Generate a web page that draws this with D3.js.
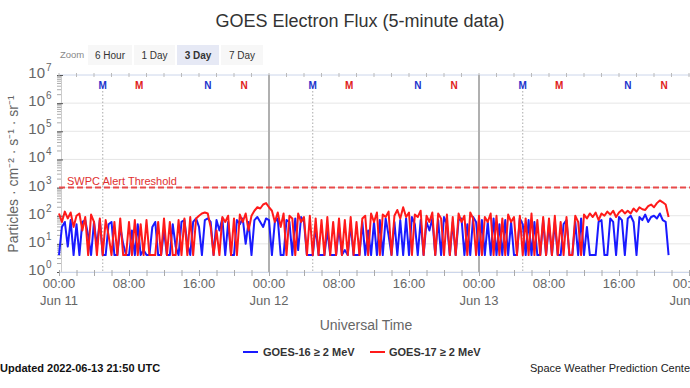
<!DOCTYPE html>
<html><head><meta charset="utf-8">
<script src="https://cdn.jsdelivr.net/npm/d3@7"></script>
<style>
html,body{margin:0;padding:0;background:#fff;overflow:hidden}
svg{display:block;font-family:"Liberation Sans",Arial,Helvetica,sans-serif}
</style></head><body>
<svg id="c" width="690" height="388"></svg>
<script>
// ---- data ----
const startTime = Date.UTC(2022, 5, 11, 0, 0);
const stepMinutes = 20;
const goes16 = [
 4,40,60, 8,70,4, 50,4,60, 70,20,4, 60,8,70, 4,4,50, 60,4,4, 40,10,4, 4,30,4, 50,4,6,
 4,4,40, 60,4,4, 30,4,4, 50,8,4, 60,70,10, 4,60,80, 40,4,70, 80,60,4, 70,30,80, 4,60,4,
 4,70,50, 80,10,60, 4,70,90, 60,40,80, 70,4,60, 80,4,4, 70,60,4, 80,6,90, 60,4,4, 4,40,4,
 4,4,30, 4,4,4, 40,4,6, 4,50,4, 4,4,60, 4,30,4, 60,4,70, 4,80,20, 4,60,4, 70,4,80,
 4,90,50, 4,70,4, 60,30,80, 4,70,4, 90,50,4, 60,4,70, 80,4,50, 4,90,60, 4,70,4, 60,4,80,
 4,50,4, 70,4,60, 4,4,80, 50,4,70, 4,60,4, 4,70,4, 50,4,60, 4,4,50, 70,4,4, 60,4,80,
 4,40,4, 4,4,60, 70,4,4, 80,60,4, 90,70,4, 80,100,60, 4,90,70, 110,60,90, 100,80,120, 70,60,4
];
const goes17 = [
 120,60,140, 80,130,40, 100,120,30, 90,4,110, 60,4,80, 4,70,20, 4,60,4, 80,4,4, 60,4,70, 4,50,4,
 70,4,4, 4,60,4, 80,4,60, 4,4,70, 4,80,4, 90,4,80, 100,120,130, 120,40,4, 30,4,90, 60,100,4,
 80,4,110, 60,120,30, 100,150,200, 180,250,280, 200,150,60, 130,40,120, 4,100,80, 4,120,60, 90,4,100, 4,80,4,
 70,4,90, 4,60,4, 80,4,70, 4,90,4, 60,4,80, 100,4,120, 60,130,4, 110,90,140, 4,100,160, 80,200,90,
 130,4,110, 90,150,4, 100,60,130, 4,120,80, 4,110,4, 90,4,120, 60,100,4, 130,80,4, 100,4,90, 60,120,4,
 100,4,80, 4,110,60, 90,4,100, 4,80,4, 120,4,70, 4,90,4, 80,4,100, 4,60,4, 90,4,4, 100,60,4,
 110,80,120, 90,130,70, 120,100,140, 110,150,90, 130,160,120, 150,120,180, 140,200,170, 160,220,250, 200,280,350, 300,250,90
];
const yTicks = [1, 10, 100, 1e3, 1e4, 1e5, 1e6, 1e7];
const thresholdValue = 1000;
const markerTimes = [
 ["2022-06-11T05:00Z","M","blue"],["2022-06-11T09:09Z","M","red"],["2022-06-11T17:00Z","N","blue"],["2022-06-11T21:09Z","N","red"],
 ["2022-06-12T05:00Z","M","blue"],["2022-06-12T09:09Z","M","red"],["2022-06-12T17:00Z","N","blue"],["2022-06-12T21:09Z","N","red"],
 ["2022-06-13T05:00Z","M","blue"],["2022-06-13T09:09Z","M","red"],["2022-06-13T17:00Z","N","blue"],["2022-06-13T21:09Z","N","red"]
];
const dayLines = ["2022-06-12T00:00Z","2022-06-13T00:00Z"];
const zoomButtons = ["6 Hour","1 Day","3 Day","7 Day"];
const selectedZoom = "3 Day";
const seriesNames = ["GOES-16 \u2265 2 MeV","GOES-17 \u2265 2 MeV"];
const seriesColors = ["#1a1aff","#ff1a1a"];

// ---- layout ----
const svg = d3.select("#c");
const L = 59, R = 689, T = 75, B = 272;
const x = d3.scaleUtc().domain([new Date(Date.UTC(2022,5,11)), new Date(Date.UTC(2022,5,14))]).range([L, R]);
const y = d3.scaleLog().domain([1, 1e7]).range([B, T]);
const grey = "#666";

// title
svg.append("text").attr("x", 360).attr("y", 27).attr("text-anchor","middle")
  .attr("font-size", 18).attr("fill","#333").text("GOES Electron Flux (5-minute data)");

// zoom buttons
svg.append("text").attr("x", 60).attr("y", 58).attr("font-size", 9.5).attr("fill","#888").text("Zoom");
const bx = [[88,132],[134,175],[177,219],[221,263]];
zoomButtons.forEach((b,i)=>{
  const sel = b === selectedZoom;
  svg.append("rect").attr("x", bx[i][0]).attr("y", 45).attr("width", bx[i][1]-bx[i][0]).attr("height", 20)
    .attr("fill", sel ? "#e6e9f5" : "#f7f7f7");
  svg.append("text").attr("x", (bx[i][0]+bx[i][1])/2).attr("y", 58.5).attr("text-anchor","middle")
    .attr("font-size", 10).attr("font-weight", sel ? "bold":"normal").attr("fill","#333").text(b);
});

// gridlines
svg.append("g").selectAll("line").data(yTicks).join("line")
  .attr("x1", L).attr("x2", 690).attr("y1", d=>y(d)).attr("y2", d=>y(d))
  .attr("stroke", d=> d===1e7 ? "#ccd6eb" : "#e6e6e6").attr("stroke-width", 1);

// y minor ticks
const minor = [];
for (let k=0;k<7;k++) for (let m=2;m<10;m++) minor.push(m*Math.pow(10,k));
svg.append("g").selectAll("line").data(minor).join("line")
  .attr("x1", L-2).attr("x2", L+3).attr("y1", d=>y(d)).attr("y2", d=>y(d))
  .attr("stroke","#999").attr("stroke-width",0.8);

// y axis
const yAxis = svg.append("g").attr("transform",`translate(${L+2},0)`)
  .call(d3.axisLeft(y).tickValues(yTicks).tickFormat("").tickSize(5).tickSizeOuter(0));
yAxis.select(".domain").attr("stroke","#ccc");
yAxis.selectAll(".tick line").attr("stroke","#555").attr("x2",2).attr("x1",-4);
const yl = svg.append("g");
yTicks.forEach(v=>{
  const e = Math.round(Math.log10(v));
  const t = yl.append("text").attr("x", 45).attr("y", y(v)+3).attr("text-anchor","end")
    .attr("font-size", 15).attr("fill", grey);
  t.append("tspan").text("10");
  yl.append("text").attr("x", 46).attr("y", y(v)-4).attr("font-size", 10).attr("fill", grey).text(e);
});

// y axis title
svg.append("text").attr("transform","translate(18,174) rotate(-90)").attr("text-anchor","middle")
  .attr("font-size", 14).attr("fill", grey).text("Particles \u00b7 cm\u207b\u00b2 \u00b7 s\u207b\u00b9 \u00b7 sr\u207b\u00b9");

// x axis
const xAxis = svg.append("g").attr("transform",`translate(0,${B})`)
  .call(d3.axisBottom(x).ticks(d3.utcHour.every(2)).tickFormat("").tickSize(4).tickSizeOuter(0));
xAxis.select(".domain").attr("stroke","#ccd6eb");
xAxis.selectAll(".tick line").attr("stroke","#aaa").attr("y1",-2);
// top ticks
svg.append("g").selectAll("line").data(x.ticks(d3.utcHour.every(2))).join("line")
  .attr("x1", d=>x(d)).attr("x2", d=>x(d)).attr("y1", T-2).attr("y2", T+2).attr("stroke","#bbb");
const labelTicks = x.ticks(d3.utcHour.every(8));
const xl = svg.append("g");
labelTicks.forEach(d=>{
  xl.append("text").attr("x", x(d)).attr("y", 288).attr("text-anchor","middle").attr("font-size", 13)
    .attr("fill", grey).text(d3.utcFormat("%H:%M")(d));
  if (d.getUTCHours()===0)
    xl.append("text").attr("x", x(d)).attr("y", 305).attr("text-anchor","middle").attr("font-size", 13)
      .attr("fill", grey).text(d3.utcFormat("%b %-d")(d));
});
svg.append("text").attr("x", 366).attr("y", 330).attr("text-anchor","middle").attr("font-size", 14)
  .attr("fill", grey).text("Universal Time");

// day lines
svg.append("g").selectAll("line").data(dayLines).join("line")
  .attr("x1", d=>x(new Date(d))).attr("x2", d=>x(new Date(d))).attr("y1", T).attr("y2", B)
  .attr("stroke","#b0b0b0").attr("stroke-width",2);

// markers
const mk = svg.append("g");
markerTimes.forEach(([t,l,c])=>{
  const xx = x(new Date(t));
  if (l==="M" && c==="blue")
    mk.append("line").attr("x1",xx).attr("x2",xx).attr("y1",91).attr("y2",B)
      .attr("stroke","#aaa").attr("stroke-width",1).attr("stroke-dasharray","1.5,2");
  mk.append("text").attr("x", xx).attr("y", 89).attr("text-anchor","middle").attr("font-size", 10)
    .attr("font-weight","bold").attr("fill", c==="blue" ? "#2233cc" : "#e02020").text(l);
});

// threshold
svg.append("line").attr("x1", L).attr("x2", 690).attr("y1", y(thresholdValue)).attr("y2", y(thresholdValue))
  .attr("stroke","#e84a4a").attr("stroke-width",2).attr("stroke-dasharray","6,3");
svg.append("text").attr("x", 67).attr("y", 185).attr("font-size", 11).attr("fill","#e03030").text("SWPC Alert Threshold");

// series
const tAt = i => new Date(startTime + i*stepMinutes*60000);
const line = d3.line().x((d,i)=>x(tAt(i))).y(d=>y(d));
[goes16, goes17].forEach((s,k)=>{
  svg.append("path").datum(s).attr("d", line).attr("fill","none")
    .attr("stroke", seriesColors[k]).attr("stroke-width", 2).attr("stroke-linejoin","round");
});

// legend
const lg = [[243,263],[370,389]];
seriesNames.forEach((n,i)=>{
  svg.append("line").attr("x1", lg[i][0]).attr("x2", lg[i][0]+15).attr("y1", 352).attr("y2", 352)
    .attr("stroke", seriesColors[i]).attr("stroke-width", 2);
  svg.append("text").attr("x", lg[i][1]).attr("y", 356).attr("font-size", 11).attr("font-weight","bold")
    .attr("fill","#333").text(n);
});

// footer
svg.append("text").attr("x", 0).attr("y", 372).attr("font-size", 11).attr("font-weight","bold")
  .attr("fill","#111").text("Updated 2022-06-13 21:50 UTC");
svg.append("text").attr("x", 530).attr("y", 372).attr("font-size", 11)
  .attr("fill","#222").text("Space Weather Prediction Center");
</script></body></html>
